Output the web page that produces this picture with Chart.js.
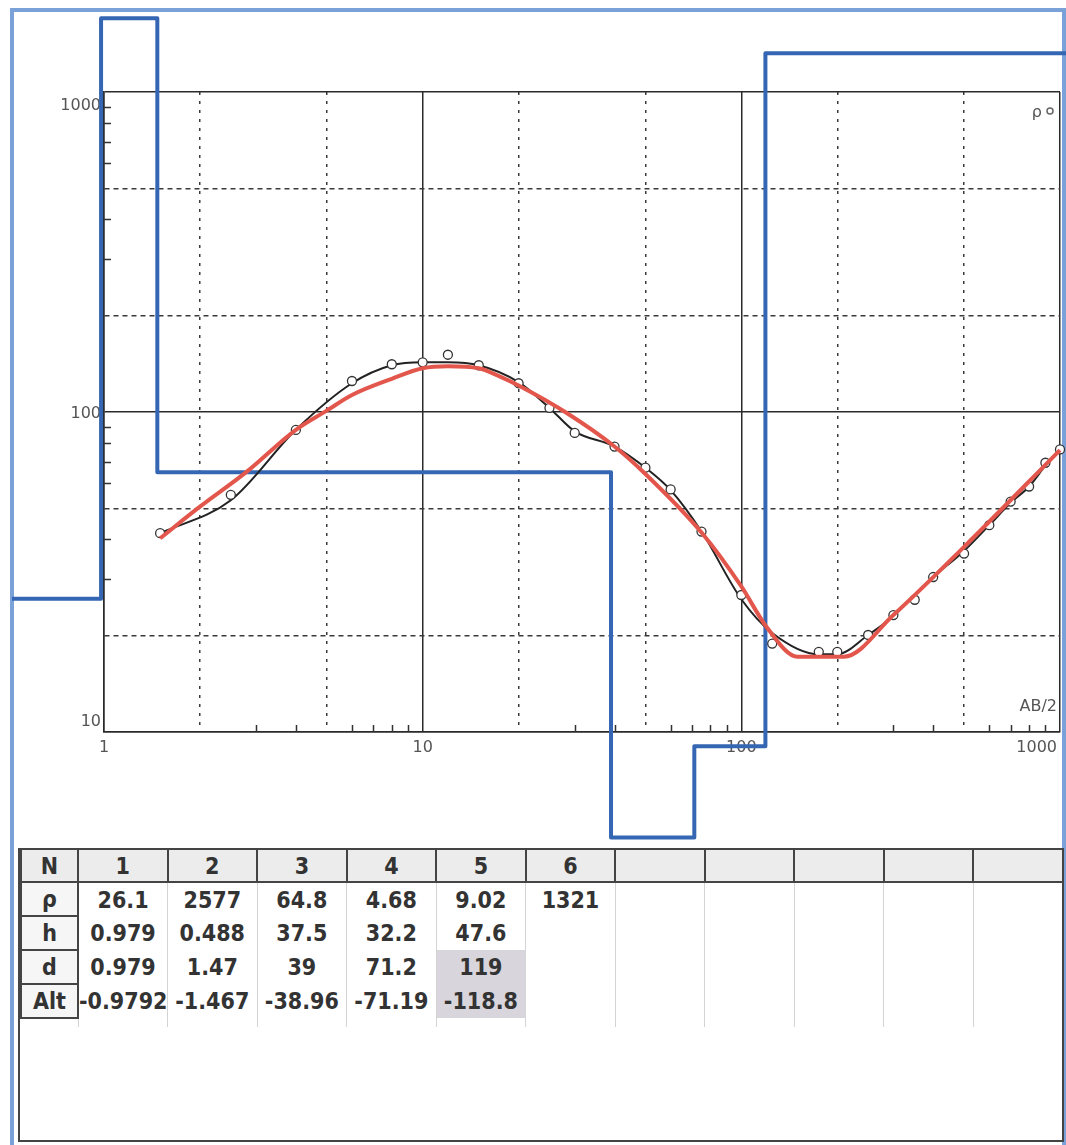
<!DOCTYPE html>
<html lang="en">
<head>
<meta charset="UTF-8">
<title>VES sounding curve</title>
<script src="https://cdn.jsdelivr.net/npm/chart.js@4.4.1/dist/chart.umd.min.js"></script>
<style>
  body { margin: 0; background: #fff; width: 1066px; height: 1145px; overflow: hidden; position: relative; }
  #frame {
    position: absolute; left: 10px; top: 8px; width: 1056px; height: 1160px;
    border: 4px solid #7aa2d8; box-sizing: border-box;
  }
  #plot { position: absolute; left: 12px; top: 16px; }
  #layers {
    position: absolute; left: 18px; top: 848px; width: 1046px; height: 294px;
    border: 2px solid #444; border-top: none; box-sizing: border-box;
  }
  #layers table {
    border-collapse: collapse; table-layout: fixed; width: 1044px;
    font-family: "Liberation Sans Narrow", "DejaVu Sans Condensed", "Liberation Sans", sans-serif;
    font-weight: bold; font-size: 23px; color: #333;
  }
  #layers td { height: 32px; padding: 0; text-align: center; border-left: 1px solid #d4d4d4; white-space: nowrap; overflow: visible; }
  #layers tr.head td { background: #ececec; border: 2px solid #444; height: 31px; }
  #layers td.lab { border: 2px solid #444; background: #f6f6f6; }
  #layers td.hi { background: #d8d6dc; }
  #layers tr.fill td { height: 8px; }
  #layers tr.fill td.blank { border-left: none; }
</style>
</head>
<body>
<div id="frame"></div>
<canvas id="plot" width="1054" height="832"></canvas>
<div id="layers"></div>

<script>
// measured apparent resistivity (AB/2, rho_a)
const abHalf = [1.5, 2.5, 4, 6, 8, 10, 12, 15, 20, 25, 30, 40, 50, 60, 75, 100, 125, 175, 200, 250, 300, 350, 400, 500, 600, 700, 800, 900, 1000];
const rhoApparent = [41.8, 55.1, 87.9, 125, 141, 143, 151, 140, 123, 103, 86, 78, 67, 57.3, 42.3, 26.8, 18.9, 17.8, 17.8, 20.1, 23.2, 25.9, 30.5, 36.1, 44.3, 52.5, 58.5, 69.4, 76.4];
// smoothed field curve (black line)
const rhoSmooth = [41.8, 53, 88, 123, 140, 143, 143, 140, 124, 103, 87, 78, 67, 57, 42.3, 26, 20.4, 17.5, 17.5, 20.1, 23, 26.8, 30.5, 36.8, 44.3, 52, 58.5, 68, 76.4];
// model response (red line)
const modelAB = [1.5, 2, 2.8, 4, 5, 6, 8, 10, 12, 15, 17.5, 20, 28, 40, 50, 75, 100, 120, 150, 210, 300, 500, 1000];
const modelRho = [40.3, 50.6, 65, 88, 101, 113, 127, 137, 139, 137, 129, 121, 100, 78, 64, 42, 28.5, 21.3, 17.2, 17.2, 23.2, 37.9, 76];

// layered model (table + blue step line)
const layerN = [1, 2, 3, 4, 5, 6];
const layerRho = [26.1, 2577, 64.8, 4.68, 9.02, 1321];
const layerH = [0.979, 0.488, 37.5, 32.2, 47.6];
const layerD = [0.979, 1.47, 39, 71.2, 119];
const layerAlt = ['-0.9792', '-1.467', '-38.96', '-71.19', '-118.8'];
const selectedLayer = 4; // highlighted column (index)
const modelPlotCeil = 1700; // program clamps the model line at the panel top
const modelStart = 0.5, modelEnd = 5000;

const xRange = [1, 1000];
const xGrid = [1, 2, 5, 10, 20, 50, 100, 200, 500, 1000];
const yGrid = [10, 20, 50, 100, 200, 500, 1000];
const xLabels = [1, 10, 100, 1000];
const yLabels = [10, 100, 1000];
const minorMult = [3, 4, 6, 7, 8, 9];

// blue step points
var stepPts = [{x: modelStart, y: layerRho[0]}];
layerD.forEach(function (d, i) {
    stepPts.push({x: d, y: Math.min(layerRho[i + 1], modelPlotCeil)});
});
stepPts.push({x: modelEnd, y: Math.min(layerRho[layerRho.length - 1], modelPlotCeil)});

function isDecade(v) { return Math.abs(Math.log10(v) - Math.round(Math.log10(v))) < 1e-6; }

const axisText = {
    id: 'axisText',
    beforeDatasetsDraw(chart) {
        const ctx = chart.ctx, a = chart.chartArea, xs = chart.scales.x, ys = chart.scales.y;
        ctx.save();
        // minor ticks
        ctx.strokeStyle = '#333';
        ctx.lineWidth = 1.5;
        ctx.beginPath();
        [1, 10, 100].forEach(function (dec) {
            minorMult.forEach(function (m) {
                var px = Math.round(xs.getPixelForValue(dec * m)) + 0.5;
                ctx.moveTo(px, a.bottom); ctx.lineTo(px, a.bottom - 7);
            });
        });
        [10, 100].forEach(function (dec) {
            minorMult.forEach(function (m) {
                var py = Math.round(ys.getPixelForValue(dec * m)) + 0.5;
                ctx.moveTo(a.left, py); ctx.lineTo(a.left + 7, py);
            });
        });
        ctx.stroke();

        ctx.fillStyle = '#555';
        ctx.font = '16px "DejaVu Sans"';
        ctx.textBaseline = 'middle';
        ctx.textAlign = 'right';
        var nudge = [-10, 2, 14];
        yLabels.forEach(function (v, i) {
            ctx.fillText(String(v), a.left - 3, ys.getPixelForValue(v) + nudge[i]);
        });
        xLabels.forEach(function (v, i) {
            var last = i === xLabels.length - 1;
            ctx.textAlign = last ? 'right' : 'center';
            ctx.fillText(String(v), last ? a.right - 3 : xs.getPixelForValue(v), a.bottom + 16);
        });
        ctx.textAlign = 'right';
        ctx.fillText('AB/2', a.right - 3, a.bottom - 25);
        ctx.fillText('ρ', a.right - 18, a.top + 21);
        ctx.beginPath();
        ctx.arc(a.right - 10, a.top + 19, 3, 0, Math.PI * 2);
        ctx.fillStyle = '#fff';
        ctx.fill();
        ctx.strokeStyle = '#666';
        ctx.lineWidth = 1.5;
        ctx.stroke();
        ctx.restore();
    }
};

function gridColor(c) { return c.tick ? (isDecade(c.tick.value) ? '#2a2a2a' : '#3a3a3a') : '#2a2a2a'; }

new Chart(document.getElementById('plot'), {
    type: 'line',
    data: {
        datasets: [
            {
                label: 'model response',
                data: modelAB.map(function (x, i) { return {x: x, y: modelRho[i]}; }),
                borderColor: '#e2564c', borderWidth: 4, pointRadius: 0,
                cubicInterpolationMode: 'monotone',
                order: 0
            },
            {
                label: 'rho_a',
                data: abHalf.map(function (x, i) { return {x: x, y: rhoApparent[i]}; }),
                showLine: false, pointRadius: 4.5, pointBackgroundColor: '#fff',
                pointBorderColor: '#333', pointBorderWidth: 1.3,
                order: 1
            },
            {
                label: 'smoothed',
                data: abHalf.map(function (x, i) { return {x: x, y: rhoSmooth[i]}; }),
                borderColor: '#222', borderWidth: 2, pointRadius: 0,
                cubicInterpolationMode: 'monotone',
                order: 2
            },
            {
                label: 'layers',
                data: stepPts,
                stepped: 'before', borderColor: '#3566b3', borderWidth: 4, pointRadius: 0,
                borderJoinStyle: 'round', clip: false,
                order: 3
            }
        ]
    },
    options: {
        responsive: false,
        animation: false,
        layout: { padding: { left: 92, right: 6, top: 76, bottom: 116 } },
        plugins: { legend: { display: false }, tooltip: { enabled: false } },
        scales: {
            x: {
                type: 'logarithmic',
                // range set here (not via min/max) so the off-scale model steps are kept
                afterDataLimits: function (s) { s.min = xRange[0]; s.max = xRange[1]; },
                afterBuildTicks: function (s) { s.ticks = xGrid.map(function (v) { return {value: v}; }); },
                ticks: { display: false },
                grid: { color: gridColor, lineWidth: 1.5, drawTicks: false },
                border: { display: true, color: '#2a2a2a', width: 1.5,
                          dash: function (c) { return c.tick && !isDecade(c.tick.value) ? [3, 6] : []; } }
            },
            y: {
                type: 'logarithmic', min: 10, max: 1000,
                afterBuildTicks: function (s) { s.ticks = yGrid.map(function (v) { return {value: v}; }); },
                ticks: { display: false },
                grid: { color: gridColor, lineWidth: 1.5, drawTicks: false },
                border: { display: true, color: '#2a2a2a', width: 1.5,
                          dash: function (c) { return c.tick && !isDecade(c.tick.value) ? [5, 4] : []; } }
            }
        }
    },
    plugins: [axisText]
});

// layer table
var cols = 11;
var html = '<table><colgroup><col style="width:57px">';
for (var i = 0; i < cols; i++) html += '<col>';
html += '</colgroup>';
function row(cls, label, vals) {
    var s = '<tr class="' + cls + '"><td class="lab">' + label + '</td>';
    for (var i = 0; i < cols; i++) {
        var v = i < vals.length ? vals[i] : '';
        var hi = (cls === 'hl' && i === selectedLayer) ? ' class="hi"' : '';
        s += '<td' + hi + '>' + v + '</td>';
    }
    return s + '</tr>';
}
html += '<tr class="head"><td>N</td>';
for (var j = 0; j < cols; j++) html += '<td>' + (j < layerN.length ? layerN[j] : '') + '</td>';
html += '</tr>';
html += row('', 'ρ', layerRho);
html += row('', 'h', layerH);
html += row('hl', 'd', layerD);
html += row('hl', 'Alt', layerAlt);
html += '<tr class="fill"><td class="blank"></td>';
for (var k = 0; k < cols; k++) html += '<td></td>';
html += '</tr></table>';
document.getElementById('layers').innerHTML = html;
</script>
</body>
</html>
